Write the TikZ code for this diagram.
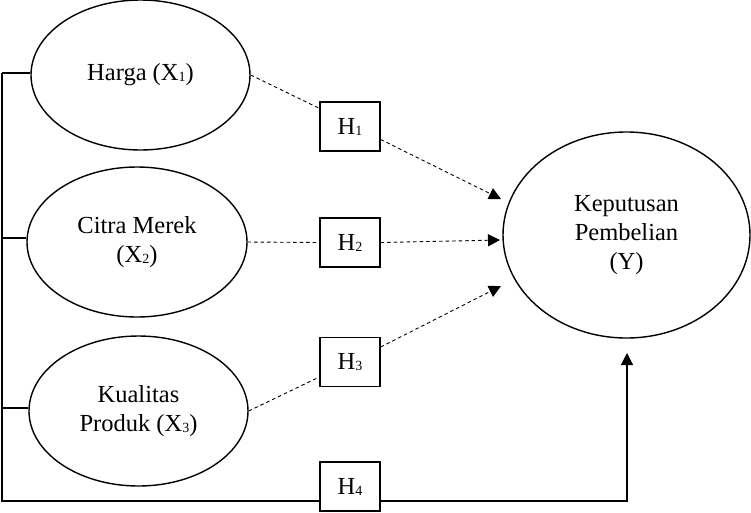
\documentclass[tikz,border=0pt]{standalone}
\usepackage{fontspec}
\setmainfont{Liberation Serif}
\usetikzlibrary{shapes.geometric,arrows.meta}
\newcommand\sbs[1]{\raisebox{-1pt}{\fontsize{14}{14}\selectfont #1}}
\tikzset{
  var/.style={ellipse,draw,line width=1.4pt,inner sep=0pt,align=center,
    font=\fontsize{24.5}{29}\selectfont},
  hyp/.style={rectangle,draw,line width=1.4pt,fill=white,minimum width=60pt,
    minimum height=49pt,inner sep=0pt,font=\fontsize{24.5}{29}\selectfont},
  dline/.style={dash pattern=on 3.5pt off 3pt,line width=0.9pt},
  sline/.style={line width=1.2pt},
  tip/.style={-{Triangle[length=12pt,width=12pt]}}
}
\begin{document}
\begin{tikzpicture}[x=1pt,y=-1pt]
\useasboundingbox (0,0) rectangle (751,512);
% variables
\node[var,minimum width=219pt,minimum height=150pt] (harga) at (140.5,75) {Harga (X\sbs{1})};
\node[var,minimum width=220pt,minimum height=150pt] (citra) at (137,242) {Citra Merek\\(X\sbs{2})};
\node[var,minimum width=219pt,minimum height=150pt] (kual) at (138.5,411) {Kualitas\\Produk (X\sbs{3})};
\node[var,minimum width=247pt,minimum height=206pt] (kep) at (626.5,235) {Keputusan\\Pembelian\\(Y)};
% hypothesis boxes
\node[hyp] (H1) at (350,126.5) {H\sbs{1}};
\node[hyp] (H2) at (350,242.5) {H\sbs{2}};
\node[hyp] (H3) at (350,362) {H\sbs{3}};
\node[hyp] (H4) at (350,486.5) {H\sbs{4}};
% helper coordinates
\coordinate (t1) at (501,199);
\coordinate (t2) at (500,240);
\coordinate (t3) at (501,286);
\coordinate (t4) at (627,353);
\coordinate (lt) at (2,73);
\coordinate (lc) at (2,238);
\coordinate (lk) at (2,408);
\coordinate (lb) at (2,501);
\coordinate (rb) at (627,501);
% dashed hypothesis paths
\draw[dline] (harga.east) -- ([yshift=-7pt]H1.north west);
\draw[dline,tip] ([yshift=-13pt]H1.east) -- (t1);
\draw[dline] (citra.east) -- (H2.west);
\draw[dline,tip] (H2.east) -- (t2);
\draw[dline] (kual.east) -- ([yshift=-15pt]H3.west);
\draw[dline,tip] ([yshift=15pt]H3.east) -- (t3);
% simultaneous path
\draw[sline] (lt) -- (lb) -- (H4.west |- lb);
\draw[sline] (lt) -- (harga.west |- lt);
\draw[sline] (lc) -- (citra.west |- lc);
\draw[sline] (lk) -- (kual.west |- lk);
\draw[sline,tip] (H4.east |- lb) -- (rb) -- (t4);
\end{tikzpicture}
\end{document}
